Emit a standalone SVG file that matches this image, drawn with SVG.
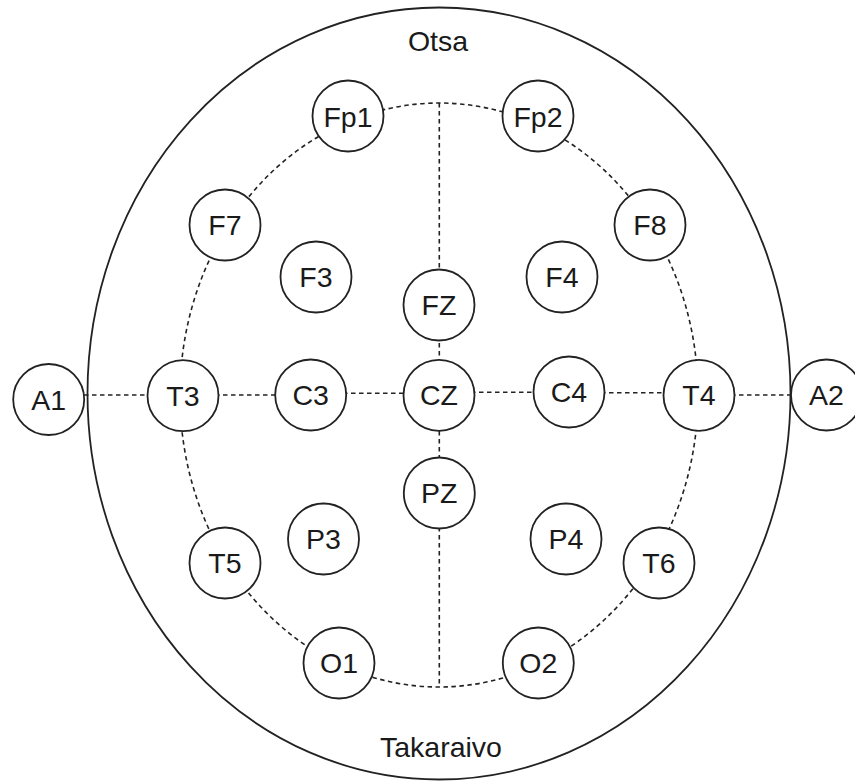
<svg xmlns="http://www.w3.org/2000/svg" width="855" height="782" viewBox="0 0 855 782">
<style>
.n circle{fill:#fff;stroke:#222;stroke-width:1.8}
.n text,.lbl{font-family:"Liberation Sans",Arial,sans-serif;font-size:28.5px;fill:#1a1a1a;text-anchor:middle}
.d{fill:none;stroke:#222;stroke-width:1.6;stroke-dasharray:4.5 3.5}
</style>
<rect width="855" height="782" fill="#fff"/>
<g id="head"><ellipse cx="439" cy="393.5" rx="351.5" ry="386" fill="none" stroke="#222" stroke-width="1.8"/></g>
<text class="lbl" x="438" y="51">Otsa</text>
<text class="lbl" x="441" y="757">Takaraivo</text>
<g id="connectors">
<ellipse class="d" cx="439" cy="395" rx="259" ry="292"/>
<line class="d" x1="439.3" y1="103" x2="439.3" y2="687"/>
<line class="d" x1="84" y1="395" x2="183" y2="395"/>
<line class="d" x1="183" y1="395" x2="311" y2="395"/>
<line class="d" x1="311" y1="393.3" x2="439" y2="393.3"/>
<line class="d" x1="439" y1="392.3" x2="569" y2="392.3"/>
<line class="d" x1="569" y1="392.7" x2="699" y2="392.7"/>
<line class="d" x1="699" y1="395" x2="791" y2="395"/>
</g>
<g id="Fp1" class="n"><circle cx="348" cy="116" r="35.5"/><text x="348" y="126.5">Fp1</text></g>
<g id="Fp2" class="n"><circle cx="538" cy="116" r="35.5"/><text x="538" y="126.5">Fp2</text></g>
<g id="F7" class="n"><circle cx="225" cy="225" r="35.5"/><text x="225" y="235">F7</text></g>
<g id="F8" class="n"><circle cx="650" cy="225" r="35.5"/><text x="650" y="235">F8</text></g>
<g id="F3" class="n"><circle cx="316" cy="277" r="35.5"/><text x="316" y="287">F3</text></g>
<g id="F4" class="n"><circle cx="562" cy="277" r="35.5"/><text x="562" y="287">F4</text></g>
<g id="FZ" class="n"><circle cx="439" cy="305" r="35.5"/><text x="439" y="315">FZ</text></g>
<g id="A1" class="n"><circle cx="48.7" cy="399.5" r="35.5"/><text x="48.7" y="409.5">A1</text></g>
<g id="T3" class="n"><circle cx="183" cy="395.7" r="35.5"/><text x="183" y="405.7">T3</text></g>
<g id="C3" class="n"><circle cx="310.7" cy="395" r="35.5"/><text x="310.7" y="405">C3</text></g>
<g id="CZ" class="n"><circle cx="439" cy="395.3" r="35.5"/><text x="439" y="405.3">CZ</text></g>
<g id="C4" class="n"><circle cx="569" cy="392" r="35.5"/><text x="569" y="402">C4</text></g>
<g id="T4" class="n"><circle cx="699" cy="395.3" r="35.5"/><text x="699" y="405.3">T4</text></g>
<g id="A2" class="n"><circle cx="826.5" cy="395" r="35.5"/><text x="826.5" y="405">A2</text></g>
<g id="PZ" class="n"><circle cx="439.3" cy="493" r="35.5"/><text x="439.3" y="503">PZ</text></g>
<g id="P3" class="n"><circle cx="323.5" cy="539" r="35.5"/><text x="323.5" y="549">P3</text></g>
<g id="P4" class="n"><circle cx="566" cy="539" r="35.5"/><text x="566" y="549">P4</text></g>
<g id="T5" class="n"><circle cx="225" cy="563" r="35.5"/><text x="225" y="573">T5</text></g>
<g id="T6" class="n"><circle cx="659" cy="563" r="35.5"/><text x="659" y="573">T6</text></g>
<g id="O1" class="n"><circle cx="339" cy="663" r="35.5"/><text x="339" y="673">O1</text></g>
<g id="O2" class="n"><circle cx="538.3" cy="663" r="35.5"/><text x="538.3" y="673">O2</text></g>
</svg>
